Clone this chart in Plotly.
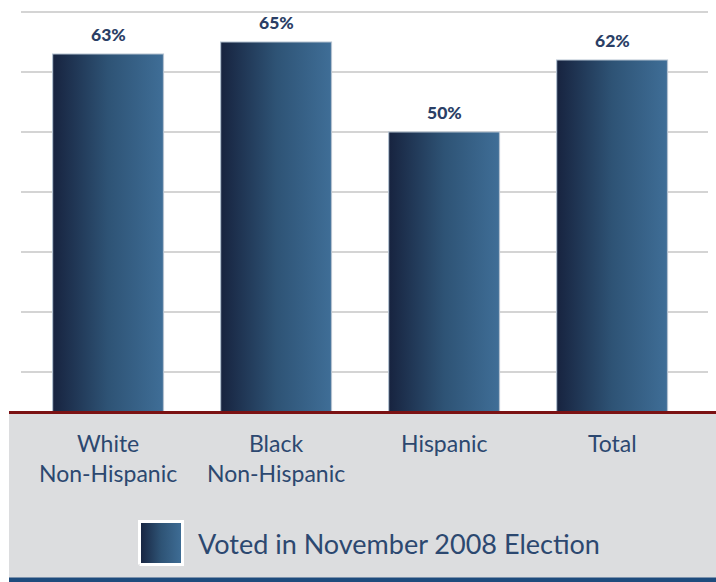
import plotly.graph_objects as go

# Share of each group that voted in the November 2008 election (%)
categories = ["White<br>Non-Hispanic", "Black<br>Non-Hispanic", "Hispanic", "Total"]
voted_pct = [63, 65, 50, 62]
legend_label = "Voted in November 2008 Election"

W, H = 716, 582
BAR_WIDTH = 0.66
NAVY_SCALE = [[0.0, "#17233f"], [0.5, "#2e5375"], [1.0, "#3f6e97"]]
TEXT_BLUE = "#2c4870"
LABEL_TOP = 427      # pixel row where the category-label block starts


def px_x(p):
    return p / W


def px_y(p):
    return 1 - p / H


fig = go.Figure()

# Bars: rectangles filled with a left-to-right navy gradient
for i, v in enumerate(voted_pct):
    x0, x1 = i - BAR_WIDTH / 2, i + BAR_WIDTH / 2
    fig.add_trace(go.Scatter(
        x=[x0, x1, x1, x0, x0],
        y=[0, 0, v, v, 0],
        mode="lines",
        fill="toself",
        fillgradient=dict(type="horizontal", colorscale=NAVY_SCALE),
        line=dict(color="#b3c1d0", width=1.2),
        hoverinfo="skip",
        showlegend=False,
        xaxis="x", yaxis="y",
    ))
    fig.add_annotation(
        x=i, y=v, xref="x", yref="y",
        text=f"{v}%", showarrow=False,
        yanchor="middle", yshift=20,
        font=dict(family="Lato", size=17.5, weight=900, color="#2b3f66"),
    )

# Category names under the baseline
for i, name in enumerate(categories):
    fig.add_annotation(
        x=i, y=px_y(LABEL_TOP), xref="x", yref="paper",
        text=name, showarrow=False,
        xanchor="center", yanchor="top", align="center",
        font=dict(family="Lato", size=23, color=TEXT_BLUE),
    )

# Legend swatch drawn on a pixel-unit overlay axis
sx0, sx1, sy0, sy1 = 139.5, 182.5, 521.5, 564.5
fig.add_trace(go.Scatter(
    x=[sx0, sx1, sx1, sx0, sx0],
    y=[sy1, sy1, sy0, sy0, sy1],
    mode="lines",
    fill="toself",
    fillgradient=dict(type="horizontal", colorscale=NAVY_SCALE),
    line=dict(color="white", width=3),
    hoverinfo="skip",
    showlegend=False,
    xaxis="x2", yaxis="y2",
))
fig.add_annotation(
    x=px_x(196), y=px_y(543), xref="paper", yref="paper",
    text=legend_label, showarrow=False,
    xanchor="left", yanchor="middle",
    font=dict(family="Lato", size=27, color=TEXT_BLUE),
)

# Grey label panel, dark red baseline and blue bottom rule
fig.add_shape(type="rect", xref="paper", yref="paper",
              x0=px_x(9), x1=1, y0=px_y(578), y1=px_y(413),
              fillcolor="#dcdddf", line_width=0, layer="below")
fig.add_shape(type="line", xref="paper", yref="paper",
              x0=px_x(9), x1=1, y0=px_y(412.5), y1=px_y(412.5),
              line=dict(color="#7b1113", width=3), layer="above")
fig.add_shape(type="rect", xref="paper", yref="paper",
              x0=px_x(9), x1=1, y0=0, y1=px_y(577.5),
              fillcolor="#1e4b7d", line_width=0, layer="above")

fig.update_layout(
    width=W, height=H,
    margin=dict(l=0, r=0, t=0, b=0),
    paper_bgcolor="white",
    plot_bgcolor="rgba(0,0,0,0)",
    showlegend=False,
    xaxis=dict(
        domain=[px_x(21), px_x(708)],
        range=[-0.518, 3.571],
        showticklabels=False, ticks="",
        showgrid=False, zeroline=False, showline=False,
        fixedrange=True,
    ),
    yaxis=dict(
        domain=[px_y(413), 1],
        range=[3.17, 72],
        tickvals=[10, 20, 30, 40, 50, 60, 70],
        showticklabels=False, ticks="",
        showgrid=True, gridcolor="#d4d4d4", gridwidth=2,
        zeroline=False, showline=False,
        fixedrange=True,
    ),
    xaxis2=dict(domain=[0, 1], range=[0, W], visible=False, anchor="y2", fixedrange=True),
    yaxis2=dict(domain=[0, 1], range=[H, 0], visible=False, anchor="x2", fixedrange=True),
)

fig.write_html("out.html")
